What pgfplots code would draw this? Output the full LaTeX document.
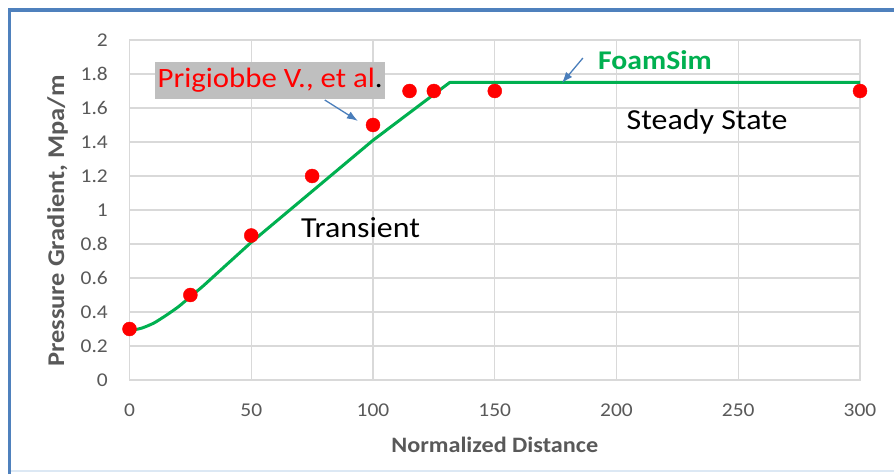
\documentclass[border=0pt]{standalone}
\usepackage{pgfplots}
\pgfplotsset{compat=1.18}
\usetikzlibrary{arrows.meta}
\usepackage{fontspec}
\setmainfont{Carlito}[FakeStretch=1.1]
\definecolor{gridc}{HTML}{D9D9D9}
\definecolor{tickc}{HTML}{595959}
\definecolor{framec}{HTML}{4F81BD}
\definecolor{paleb}{HTML}{DCE8F4}
\definecolor{lgreen}{HTML}{00B050}
\definecolor{arrowc}{HTML}{4A7EBB}
\definecolor{boxc}{HTML}{BFBFBF}
\begin{document}
\begin{tikzpicture}
\useasboundingbox (0pt,0pt) rectangle (894pt,474pt);
\fill[white] (0pt,0pt) rectangle (894pt,474pt);
\draw[framec, line width=3.4pt] (9.5pt,0pt) -- (9.5pt,464pt) -- (894pt,464pt);
\draw[paleb, line width=1.5pt] (11pt,3pt) -- (894pt,3pt);
\begin{axis}[
  at={(129.5pt,94pt)}, anchor=south west,
  scale only axis, width=730.5pt, height=340pt,
  xmin=0, xmax=300, ymin=0, ymax=2,
  xtick={0,50,...,300}, ytick={0,0.2,...,2.01},
  yticklabels={0,0.2,0.4,0.6,0.8,1,1.2,1.4,1.6,1.8,2},
  major tick length=0pt,
  grid=major,
  grid style={gridc, line width=1.3pt},
  axis line style={gridc, line width=1.3pt},
  /pgf/number format/assume math mode=true,
  ticklabel style={font=\fontsize{19.5}{23}\selectfont, text=tickc},
  yticklabel style={inner sep=0pt, xshift=-21.5pt},
  xticklabel style={inner sep=0pt, yshift=-24pt},
  clip=false,
]
\addplot[lgreen, line width=3pt, smooth, tension=0.4] coordinates {
 (0,0.29) (5,0.305) (10,0.335) (15,0.38) (20,0.43) (25,0.49) (30,0.55)
 (35,0.615) (40,0.68) (45,0.745) (50,0.81)};
\addplot[lgreen, line width=3pt, line join=round] coordinates {
 (50,0.81) (75,1.11) (100,1.41) (125,1.68) (131.5,1.75) (300,1.75)};
\addplot[only marks, mark=*, mark size=7pt, red, mark options={fill=red, draw=red}] coordinates {
 (0,0.3) (25,0.5) (50,0.85) (75,1.2) (100,1.5) (115,1.7) (125,1.7) (150,1.7) (300,1.7)};
\node[fill=boxc, inner sep=0pt, minimum width=230pt, minimum height=37pt, anchor=center]
  at (axis cs:57.7,1.762) {};
\node[anchor=west, inner sep=0pt, font=\fontsize{28}{32}\selectfont] at (axis cs:11.5,1.762)
  {\textcolor{red}{Prigiobbe V., et al}.};
\draw[arrowc, line width=1.3pt, -{Latex[length=11pt,width=8pt]}] (axis cs:80.2,1.647) -- (axis cs:93.8,1.524);
\node[font=\bfseries\fontsize{27}{31}\selectfont, text=lgreen] at (axis cs:215.8,1.88) {FoamSim};
\draw[arrowc, line width=1.3pt, -{Latex[length=11pt,width=8pt]}] (axis cs:186.2,1.894) -- (axis cs:177.6,1.747);
\node[font=\fontsize{29}{33}\selectfont] at (axis cs:237.2,1.518) {Steady State};
\node[font=\fontsize{29}{33}\selectfont] at (axis cs:94.9,0.894) {Transient};
\end{axis}
\node[font=\bfseries\fontsize{22}{26}\selectfont, text=tickc] at (494.75pt,29pt) {Normalized Distance};
\node[rotate=90, font=\bfseries\fontsize{24}{28}\selectfont, text=tickc] at (57.5pt,253pt) {Pressure Gradient, Mpa/m};
\end{tikzpicture}
\end{document}
